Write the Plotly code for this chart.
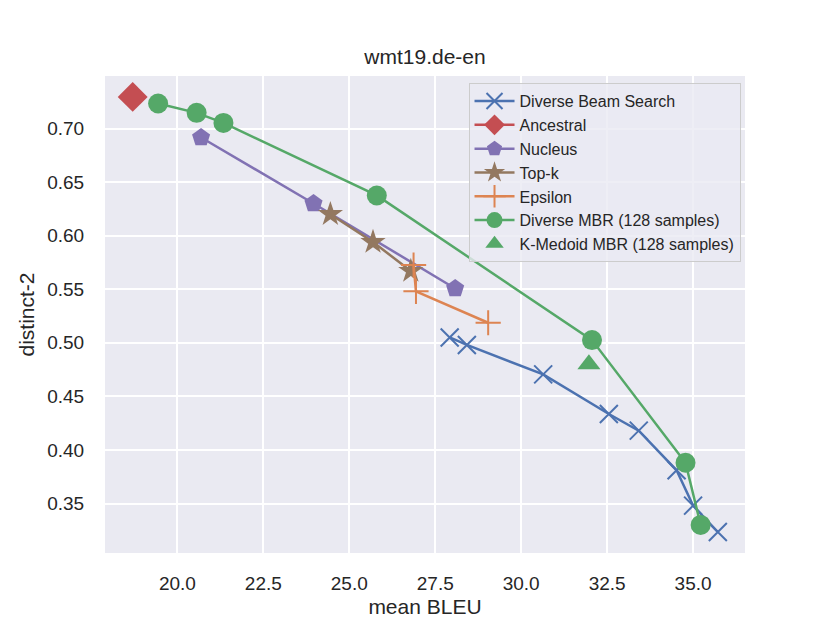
import plotly.graph_objects as go

dbs_x = [27.92, 28.42, 30.64, 32.55, 33.42, 34.52, 35.0, 35.72]
dbs_y = [0.505, 0.498, 0.4705, 0.4335, 0.418, 0.381, 0.348, 0.3234]
anc_x = [18.70]
anc_y = [0.7295]
nuc_x = [20.69, 23.96, 28.08]
nuc_y = [0.6916, 0.630, 0.5507]
topk_x = [24.45, 25.69, 26.79]
topk_y = [0.620, 0.594, 0.567]
eps_x = [26.87, 26.94, 29.04]
eps_y = [0.5725, 0.548, 0.5187]
dmbr_x = [19.44, 20.56, 21.34, 25.80, 32.06, 34.78, 35.22]
dmbr_y = [0.7233, 0.7146, 0.7052, 0.6375, 0.5025, 0.388, 0.330]
kmed_x = [31.97]
kmed_y = [0.480]

x_ticks = [20, 22.5, 25, 27.5, 30, 32.5, 35]
x_tick_labels = ["20.0", "22.5", "25.0", "27.5", "30.0", "32.5", "35.0"]
y_ticks = [0.35, 0.40, 0.45, 0.50, 0.55, 0.60, 0.65, 0.70]

BLUE = "#4C72B0"; ORANGE = "#DD8452"; GREEN = "#55A868"
RED = "#C44E52"; PURPLE = "#8172B3"; BROWN = "#937860"
LW = 2.5

fig = go.Figure()
def add(x, y, name, color, symbol, size, mode="lines+markers", thin=False):
    marker = dict(symbol=symbol, size=size, color=color)
    if thin:
        marker["line"] = dict(color=color, width=2)
    else:
        marker["line"] = dict(width=0)
    fig.add_trace(go.Scatter(x=x, y=y, name=name, mode=mode,
                             line=dict(color=color, width=LW), marker=marker))

add(dbs_x, dbs_y, "Diverse Beam Search", BLUE, "x-thin", 18, thin=True)
add(anc_x, anc_y, "Ancestral", RED, "diamond", 23)
add(nuc_x, nuc_y, "Nucleus", PURPLE, "pentagon", 19)
add(topk_x, topk_y, "Top-k", BROWN, "star", 19)
add(eps_x, eps_y, "Epsilon", ORANGE, "cross-thin", 18, thin=True)
add(dmbr_x, dmbr_y, "Diverse MBR (128 samples)", GREEN, "circle", 20)
add(kmed_x, kmed_y, "K-Medoid MBR (128 samples)", GREEN, "triangle-up", 20, mode="markers")

axis_common = dict(showgrid=True, gridcolor="white", gridwidth=1.6, zeroline=False,
                   showline=False, ticks="outside", tickcolor="rgba(0,0,0,0)",
                   automargin=False, tickfont=dict(size=19, color="#262626"))
fig.update_layout(
    width=822, height=615,
    margin=dict(l=97, r=85, t=68, b=70),
    paper_bgcolor="white", plot_bgcolor="#EAEAF2",
    font=dict(family="Liberation Sans, Arial, sans-serif", color="#262626"),
    title=dict(text="wmt19.de-en", x=0.5, xanchor="center", xref="paper",
               y=1, yref="paper", yanchor="bottom", pad=dict(b=12),
               font=dict(size=21, color="#262626")),
    xaxis=dict(range=[17.895, 36.51], tickvals=x_ticks, ticktext=x_tick_labels, ticklen=13,
               title=dict(text="mean BLEU", font=dict(size=21), standoff=6), **axis_common),
    yaxis=dict(range=[0.3038, 0.749], tickvals=y_ticks, tickformat=".2f", ticklen=16,
               title=dict(text="distinct-2", font=dict(size=21), standoff=6), **axis_common),
    legend=dict(x=0.993, y=0.985, xanchor="right", yanchor="top",
                bgcolor="rgba(234,234,242,0.8)", bordercolor="#CCCCCC", borderwidth=1,
                font=dict(size=16, color="#262626"), tracegroupgap=0, itemsizing="trace",
                itemwidth=40),
    showlegend=True,
)
fig.write_html("out.html")
